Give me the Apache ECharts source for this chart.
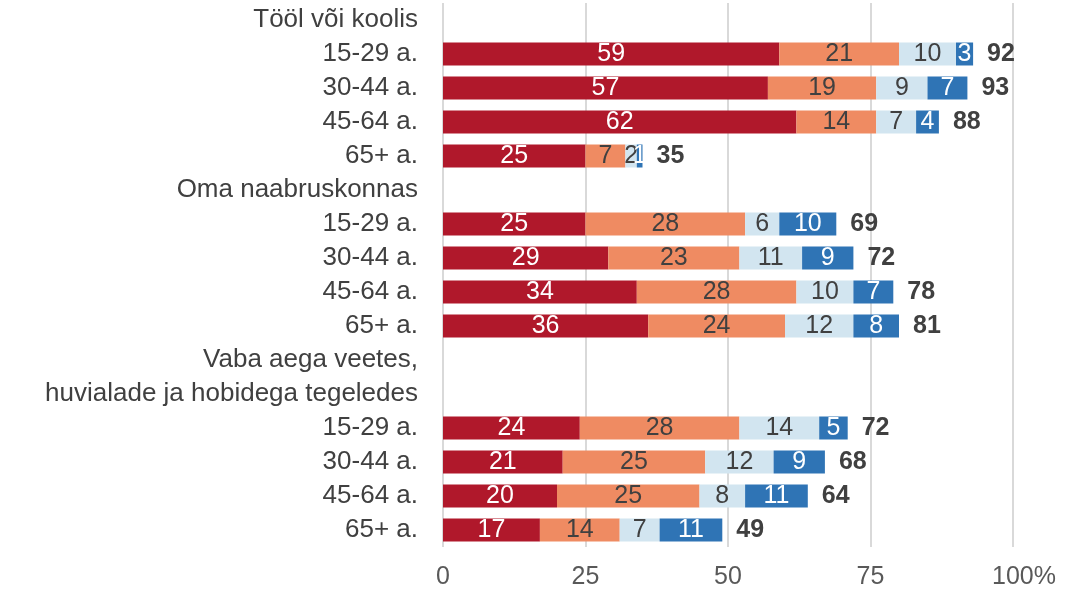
<!DOCTYPE html>
<html>
<head>
<meta charset="utf-8">
<script src="https://cdn.jsdelivr.net/npm/echarts@6/dist/echarts.min.js"></script>
<style>
  html, body { margin: 0; padding: 0; background: #fff; }
  #main { width: 1066px; height: 591px; }
</style>
</head>
<body>
<div id="main"></div>
<script>
// rows from top to bottom; header rows have no values
var rowLabels = [
    'Tööl või koolis', '15-29 a.', '30-44 a.', '45-64 a.', '65+ a.',
    'Oma naabruskonnas', '15-29 a.', '30-44 a.', '45-64 a.', '65+ a.',
    'Vaba aega veetes,', 'huvialade ja hobidega tegeledes',
    '15-29 a.', '30-44 a.', '45-64 a.', '65+ a.'
];
var s1 = ['-', 59, 57, 62, 25, '-', 25, 29, 34, 36, '-', '-', 24, 21, 20, 17];
var s2 = ['-', 21, 19, 14, 7, '-', 28, 23, 28, 24, '-', '-', 28, 25, 25, 14];
var s3 = ['-', 10, 9, 7, 2, '-', 6, 11, 10, 12, '-', '-', 14, 12, 8, 7];
var s4 = ['-', 3, 7, 4, 1, '-', 10, 9, 7, 8, '-', '-', 5, 9, 11, 11];
var totals = ['', 92, 93, 88, 35, '', 69, 72, 78, 81, '', '', 72, 68, 64, 49];

var colors = ['#B0182B', '#EF8B62', '#D2E5F0', '#2F74B5'];
var labelColors = ['#ffffff', '#404040', '#404040', '#ffffff'];
var fontName = '"Liberation Sans", Arial, sans-serif';

var chart = echarts.init(document.getElementById('main'));

var keys = rowLabels.map(function (l, i) { return 'r' + i; });

function segSeries(name, data, idx) {
    return {
        name: name,
        type: 'bar',
        stack: 'all',
        barWidth: 23,
        data: data,
        itemStyle: { color: colors[idx] },
        label: {
            show: true,
            position: 'inside',
            color: labelColors[idx],
            fontSize: 25,
            fontFamily: fontName
        },
        silent: true
    };
}

var totalData = totals.map(function (t) { return t === '' ? '-' : 0; });

option = {
    animation: false,
    grid: {
        left: 443,
        right: 53,
        top: 3,
        bottom: 44
    },
    xAxis: {
        type: 'value',
        min: 0,
        max: 100,
        interval: 25,
        axisLine: { show: false },
        axisTick: { show: false },
        splitLine: { lineStyle: { color: '#D9D9D9', width: 2 } },
        axisLabel: {
            margin: 18,
            color: '#595959',
            fontSize: 25,
            fontFamily: fontName,
            formatter: function (v) {
                return v === 100 ? '{p|100%}' : String(v);
            },
            rich: {
                p: { padding: [0, 0, 0, 22], fontSize: 25, color: '#595959', fontFamily: fontName }
            }
        }
    },
    yAxis: {
        type: 'category',
        inverse: true,
        data: keys,
        axisLine: { show: false },
        axisTick: { show: false },
        axisLabel: {
            margin: 25,
            color: '#404040',
            fontSize: 26,
            fontFamily: fontName,
            formatter: function (v, i) { return rowLabels[i]; }
        }
    },
    series: [
        segSeries('1', s1, 0),
        segSeries('2', s2, 1),
        segSeries('3', s3, 2),
        segSeries('4', s4, 3),
        {
            name: 'kokku',
            type: 'bar',
            stack: 'all',
            barWidth: 23,
            data: totalData,
            itemStyle: { color: 'transparent' },
            label: {
                show: true,
                position: 'right',
                distance: 14,
                color: '#404040',
                fontWeight: 'bold',
                fontSize: 25,
                fontFamily: fontName,
                formatter: function (p) { return totals[p.dataIndex]; }
            },
            silent: true
        }
    ]
};
chart.setOption(option);
</script>
</body>
</html>
